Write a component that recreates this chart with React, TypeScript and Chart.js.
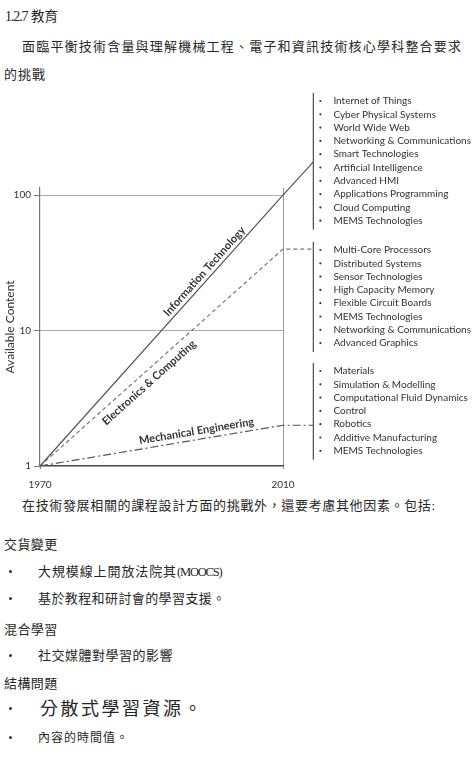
import React, { useEffect, useRef } from "react";
import { Chart, registerables } from "chart.js";

Chart.register(...registerables);

// ---- data ----
const years = [1970, 2010, 2015];
const itValues = [1, 100, 176];
const ecValues = [1, 40, 40];
const meValues = [1, 2, 2];
const seriesNames = ["Information Technology", "Electronics & Computing", "Mechanical Engineering"];
const yTickValues = [1, 10, 100];
const xTickValues = [1970, 2010];
const xMin = 1970;
const xMax = 2010;
const yAxisTitle = "Available Content";

const itTopics = [
  "Internet of Things",
  "Cyber Physical Systems",
  "World Wide Web",
  "Networking & Communications",
  "Smart Technologies",
  "Artificial Intelligence",
  "Advanced HMI",
  "Applications Programming",
  "Cloud Computing",
  "MEMS Technologies",
];
const ecTopics = [
  "Multi-Core Processors",
  "Distributed Systems",
  "Sensor Technologies",
  "High Capacity Memory",
  "Flexible Circuit Boards",
  "MEMS Technologies",
  "Networking & Communications",
  "Advanced Graphics",
];
const meTopics = [
  "Materials",
  "Simulation & Modelling",
  "Computational Fluid Dynamics",
  "Control",
  "Robotics",
  "Additive Manufacturing",
  "MEMS Technologies",
];

const CHART_FONT = "Lato, 'DejaVu Sans', sans-serif";
const CJK = "'Liberation Serif', 'Noto Sans CJK TC', 'Noto Sans CJK SC', serif";

type Part = { s: string; ls?: number; size?: number };
type PageText = { parts: Part[]; x: number; y: number; size: number; ls?: number };
const pageTexts: PageText[] = [
  { parts: [{ s: "1.2.7", ls: -1.1, size: 14 }, { s: " ", ls: 0 }, { s: "教育", ls: 0 }], x: 5, y: 17, size: 13.5 },
  { parts: [{ s: "面臨平衡技術含量與理解機械工程、電子和資訊技術核心學科整合要求" }], x: 22, y: 47, size: 13, ls: 1.2 },
  { parts: [{ s: "的挑戰" }], x: 4, y: 75, size: 13, ls: 1 },
  { parts: [{ s: "在技術發展相關的課程設計方面的挑戰外，還要考慮其他因素。包括:" }], x: 22, y: 506, size: 13, ls: 0.65 },
  { parts: [{ s: "交貨變更" }], x: 4, y: 545, size: 13, ls: 0.4 },
  { parts: [{ s: "大規模線上開放法院其", ls: 0.9 }, { s: "(MOOCS)", ls: -1.2, size: 12.5 }], x: 38, y: 572, size: 13 },
  { parts: [{ s: "基於教程和研討會的學習支援。" }], x: 38, y: 599, size: 13, ls: 0.4 },
  { parts: [{ s: "混合學習" }], x: 4, y: 630, size: 13, ls: 0.4 },
  { parts: [{ s: "社交媒體對學習的影響" }], x: 38, y: 656, size: 13, ls: 0.5 },
  { parts: [{ s: "結構問題" }], x: 4, y: 684, size: 13, ls: 0.4 },
  { parts: [{ s: "分散式學習資源。" }], x: 40, y: 709, size: 18, ls: 2.5 },
  { parts: [{ s: "內容的時間值。" }], x: 38, y: 738, size: 12, ls: 1 },
];
const bulletYs = [572, 599, 656, 709, 738];

const labelsPlugin = {
  id: "annotations",
  afterDatasetsDraw(chart: any) {
    const ctx = chart.ctx;
    const xs = chart.scales.x;
    const ys = chart.scales.y;
    const area = chart.chartArea;
    const seriesVals = [itValues, ecValues, meValues];
    const place = [
      { t: 0.7, off: -2, base: "bottom" },
      { t: 0.42, off: 5, base: "top" },
      { t: 0.65, off: -3, base: "bottom" },
    ];
    ctx.save();
    seriesVals.forEach((vals, i) => {
      const x0 = xs.getPixelForValue(years[0]);
      const y0 = ys.getPixelForValue(vals[0]);
      const x1 = xs.getPixelForValue(years[1]);
      const y1 = ys.getPixelForValue(vals[1]);
      const ang = Math.atan2(y1 - y0, x1 - x0);
      const p = place[i];
      const px = x0 + (x1 - x0) * p.t;
      const py = y0 + (y1 - y0) * p.t;
      ctx.save();
      ctx.translate(px, py);
      ctx.rotate(ang);
      ctx.font = `bold 11px ${CHART_FONT}`;
      ctx.fillStyle = "#333";
      ctx.textAlign = "center";
      ctx.textBaseline = p.base;
      ctx.fillText(seriesNames[i], 0, p.off);
      ctx.restore();
    });

    // topic lists with brackets
    const bx = xs.getPixelForValue(years[2]);
    const groups = [
      { items: itTopics, first: area.top - 87 },
      { items: ecTopics, first: area.top + 62 },
      { items: meTopics, first: area.top + 183 },
    ];
    const step = 13.3;
    groups.forEach((g) => {
      const last = g.first + (g.items.length - 1) * step;
      ctx.strokeStyle = "#555";
      ctx.lineWidth = 1.3;
      ctx.setLineDash([]);
      ctx.beginPath();
      ctx.moveTo(bx, g.first - 8);
      ctx.lineTo(bx, last + 9);
      ctx.stroke();
      ctx.font = `10px ${CHART_FONT}`;
      ctx.fillStyle = "#333";
      ctx.textBaseline = "middle";
      ctx.textAlign = "left";
      g.items.forEach((it, k) => {
        const y = g.first + k * step;
        ctx.beginPath();
        ctx.arc(bx + 7, y, 1.1, 0, Math.PI * 2);
        ctx.fill();
        ctx.fillText(it, bx + 20, y);
      });
    });
    ctx.restore();
  },
};

function ChartBox() {
  const ref = useRef<HTMLCanvasElement | null>(null);
  useEffect(() => {
    if (!ref.current) return;
    const mk = (vals: number[]) => years.map((x, i) => ({ x, y: vals[i] }));
    const chart = new Chart(ref.current, {
      type: "line",
      data: {
        datasets: [
          { label: seriesNames[0], data: mk(itValues), borderColor: "#555", borderWidth: 1.2, pointRadius: 0, clip: false as any, tension: 0 },
          { label: seriesNames[1], data: mk(ecValues), borderColor: "#777", borderWidth: 1.2, borderDash: [4, 3], pointRadius: 0, clip: false as any, tension: 0 },
          { label: seriesNames[2], data: mk(meValues), borderColor: "#555", borderWidth: 1.2, borderDash: [8, 3, 2, 3], pointRadius: 0, clip: false as any, tension: 0 },
        ],
      },
      plugins: [labelsPlugin],
      options: {
        animation: false,
        responsive: false,
        maintainAspectRatio: false,
        layout: { padding: { top: 103, right: 190, bottom: 1, left: 0 } },
        plugins: { legend: { display: false }, tooltip: { enabled: false } },
        scales: {
          x: {
            type: "linear",
            afterDataLimits: (s: any) => {
              s.min = xMin;
              s.max = xMax;
            },
            afterBuildTicks: (s: any) => {
              s.ticks = xTickValues.map((v) => ({ value: v }));
            },
            afterFit: (s: any) => {
              s.height = 28;
            },
            ticks: {
              callback: (v: any) => String(v),
              font: { family: CHART_FONT, size: 10 },
              color: "#333",
              padding: 10,
              maxRotation: 0,
            },
            grid: {
              color: (c: any) => (c.tick && c.tick.value === 2010 ? "#999" : "rgba(0,0,0,0)"),
              tickColor: "#888",
              tickLength: 3,
              lineWidth: 1,
            },
            border: { display: true, color: "#444", width: 1.6 },
          },
          y: {
            type: "logarithmic",
            min: 1,
            max: 113,
            afterBuildTicks: (s: any) => {
              s.ticks = yTickValues.map((v) => ({ value: v }));
            },
            afterFit: (s: any) => {
              s.width = 40;
            },
            ticks: {
              callback: (v: any) => String(v),
              font: { family: CHART_FONT, size: 10 },
              color: "#333",
              padding: 3,
            },
            grid: {
              color: (c: any) => (c.tick && c.tick.value === 1 ? "rgba(0,0,0,0)" : "#aaa"),
              tickColor: "#777",
              tickLength: 6,
              lineWidth: 1,
            },
            border: { display: true, color: "#777", width: 1.2 },
            title: {
              display: true,
              text: yAxisTitle,
              font: { family: CHART_FONT, size: 12 },
              color: "#333",
              padding: { top: 3, bottom: 3 },
            },
          },
        },
      } as any,
    });
    return () => chart.destroy();
  }, []);
  return <canvas ref={ref} width={473} height={410} style={{ position: "absolute", left: 0, top: 85, width: 473, height: 410 }} />;
}

export default function App() {
  useEffect(() => {
    document.body.style.margin = "0";
  }, []);
  return (
    <div style={{ position: "absolute", left: 0, top: 0, width: 473, height: 762, background: "#fff", overflow: "hidden" }}>
      {pageTexts.map((p, i) => (
        <div
          key={i}
          style={{
            position: "absolute",
            left: p.x,
            top: p.y - 12,
            height: 24,
            lineHeight: "24px",
            fontFamily: CJK,
            fontSize: p.size,
            letterSpacing: p.ls ?? 0,
            color: "#262626",
            whiteSpace: "nowrap",
          }}
        >
          {p.parts.map((pt, k) => (
            <span key={k} style={{ letterSpacing: pt.ls ?? p.ls ?? 0, fontSize: pt.size ?? p.size }}>
              {pt.s}
            </span>
          ))}
        </div>
      ))}
      {bulletYs.map((y, i) => (
        <div
          key={"b" + i}
          style={{ position: "absolute", left: 9, top: y - 2, width: 3, height: 3, borderRadius: 2, background: "#333" }}
        />
      ))}
      <ChartBox />
    </div>
  );
}
